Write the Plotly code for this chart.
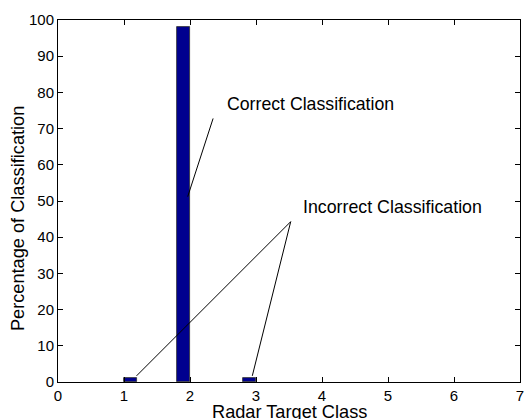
import plotly.graph_objects as go

# Data
bar_centers = [1.1, 1.9, 2.9]
bar_values = [1, 98, 1]
bar_width = 0.2

x_ticks = [0, 1, 2, 3, 4, 5, 6, 7]
y_ticks = [0, 10, 20, 30, 40, 50, 60, 70, 80, 90, 100]

# Annotation pointer lines (data coords)
correct_line_x = [2.35, 1.965]
correct_line_y = [72.8, 51.2]
incorrect_line_x = [1.19, 3.526, 2.944]
incorrect_line_y = [1.7, 44.3, 1.7]

correct_label = "Correct Classification"
incorrect_label = "Incorrect Classification"
correct_pos = (2.556, 76.8)
incorrect_pos = (3.73, 48.4)

FONT = "Liberation Sans, Arial, Helvetica, sans-serif"

fig = go.Figure()
fig.add_trace(go.Bar(
    x=bar_centers, y=bar_values, width=bar_width,
    marker=dict(color="#00008F", line=dict(color="#303030", width=0.8)),
    showlegend=False, hoverinfo="skip",
))
fig.add_trace(go.Scatter(
    x=correct_line_x, y=correct_line_y, mode="lines",
    line=dict(color="black", width=1), showlegend=False, hoverinfo="skip",
))
fig.add_trace(go.Scatter(
    x=incorrect_line_x, y=incorrect_line_y, mode="lines",
    line=dict(color="black", width=1), showlegend=False, hoverinfo="skip",
))

fig.add_annotation(x=correct_pos[0], y=correct_pos[1], text=correct_label,
                   showarrow=False, xanchor="left", yanchor="middle", xshift=-2,
                   font=dict(size=17.7, color="black", family=FONT))
fig.add_annotation(x=incorrect_pos[0], y=incorrect_pos[1], text=incorrect_label,
                   showarrow=False, xanchor="left", yanchor="middle", xshift=-3,
                   font=dict(size=17.8, color="black", family=FONT))

# Axis titles as annotations
fig.add_annotation(xref="paper", yref="paper", x=0.5, y=0, yshift=-30,
                   text="Radar Target Class", showarrow=False,
                   xanchor="center", yanchor="middle",
                   font=dict(size=18.2, color="black", family=FONT))
fig.add_annotation(xref="paper", yref="paper", x=0, y=0.45, xshift=-40,
                   text="Percentage of Classification", showarrow=False,
                   textangle=-90, xanchor="center", yanchor="middle",
                   font=dict(size=18.2, color="black", family=FONT))

axis_common = dict(
    showline=True, linecolor="black", linewidth=1, mirror="ticks",
    ticks="inside", ticklen=5, tickcolor="black", tickwidth=1,
    showgrid=False, zeroline=False, ticklabeloverflow="allow",
    tickfont=dict(size=15, color="black", family=FONT),
)
fig.update_xaxes(range=[0, 7], tickvals=x_ticks, ticktext=[str(v) for v in x_ticks], **axis_common)
fig.update_yaxes(range=[0, 100], tickvals=y_ticks, ticktext=[str(v) for v in y_ticks], **axis_common)

fig.update_layout(
    width=525, height=419,
    margin=dict(l=58, r=5, t=20, b=37, autoexpand=False),
    paper_bgcolor="white", plot_bgcolor="white",
    bargap=0,
    font=dict(family=FONT, color="black"),
)

# Remove the default 8px page margin so the figure fills the window exactly.
fig.write_html(
    "out.html",
    config={"displayModeBar": False},
    post_script="document.body.style.margin='0';document.body.style.overflow='hidden';",
)
